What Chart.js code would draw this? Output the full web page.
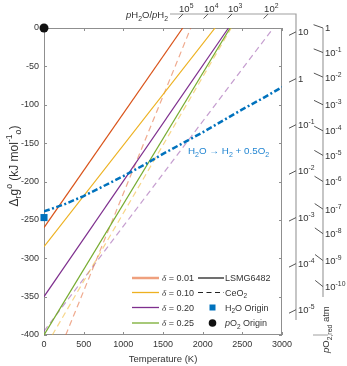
<!DOCTYPE html>
<html><head><meta charset="utf-8">
<script src="https://cdn.jsdelivr.net/npm/chart.js@4.4.1/dist/chart.umd.min.js"></script>
<style>html,body{margin:0;padding:0;background:#fff;overflow:hidden}canvas{display:block}</style>
</head><body>
<canvas id="c" width="347" height="366"></canvas>
<script>
// ---------------- data ----------------
const deltaLabels = ['0.01', '0.10', '0.20', '0.25'];
// LSMG6482 (solid lines): start / end points, T in K, Δg in kJ/mol
const lsmgT0 = [0, 0, 0, 0];
const lsmgG0 = [-260, -285, -350, -400];
const lsmgT1 = [1749, 2156, 2325, 2346];
const lsmgG1 = [0, 0, 0, 0];
// CeO2 (dashed lines) for δ = 0.01, 0.10, 0.20
const ceo2T0 = [274, 105, 0];
const ceo2G0 = [-400, -400, -395];
const ceo2T1 = [1850, 2360, 2890];
const ceo2G1 = [0, 0, 0];
// H2O -> H2 + 0.5 O2
const h2oT = [0, 250, 500, 750, 1000, 1250, 1500, 1750, 2000, 2250, 2500, 2750, 3000];
const h2oG = [-239, -230, -219, -206, -193, -179, -164, -150, -136, -121, -106, -92, -77];
const h2oOrigin = [0, -247];
const po2Origin = [0, 0];
// axis ticks
const xTicks = [0, 500, 1000, 1500, 2000, 2500, 3000];
const yTicks = [0, -50, -100, -150, -200, -250, -300, -350, -400];
// nomograph scales: pH2O/pH2 on top (by T) and right (by Δg), pO2,red on the far right (by Δg)
const ratioTopT = [1753, 2068, 2370, 2825];
const ratioTopExp = ['5', '4', '3', '2'];
const ratioRightG = [-5, -66, -126, -186, -247, -307, -367];
const ratioRightBase = ['10', '1', '10', '10', '10', '10', '10'];
const ratioRightExp = ['', '', '-1', '-2', '-3', '-4', '-5'];
const po2RightG = [0, -32, -64, -100, -134, -166, -200, -236, -268, -303, -337];
const po2RightBase = ['1', '10', '10', '10', '10', '10', '10', '10', '10', '10', '10'];
const po2RightExp = ['', '-1', '-2', '-3', '-4', '-5', '-6', '-7', '-8', '-9', '-10'];

// ---------------- styling ----------------
const SANS = '"Liberation Sans", Arial, Helvetica, sans-serif';
const SERIF = '"Liberation Serif", "Times New Roman", serif';
const lsmgColors = ['#D95319', '#EDB120', '#7E2F8E', '#77AC30'];
const ceo2Colors = ['rgba(226,100,50,0.55)', 'rgba(240,180,40,0.55)', 'rgba(140,60,160,0.5)'];
const BLUE = '#0072BD';
const TXT = '#333333';
const AX = '#8f8f8f';

Chart.defaults.font.family = SANS;

const datasets = [];
lsmgG0.forEach((g, i) => datasets.push({
  data: [{x: lsmgT0[i], y: g}, {x: lsmgT1[i], y: lsmgG1[i]}],
  borderColor: lsmgColors[i], borderWidth: 1.2, pointRadius: 0, order: 2
}));
ceo2G0.forEach((g, i) => datasets.push({
  data: [{x: ceo2T0[i], y: g}, {x: ceo2T1[i], y: ceo2G1[i]}],
  borderColor: ceo2Colors[i], borderWidth: 1.2, borderDash: [6, 4], pointRadius: 0, order: 3
}));
datasets.push({
  data: h2oT.map((t, i) => ({x: t, y: h2oG[i]})),
  borderColor: BLUE, borderWidth: 2.5, borderDash: [6, 2.5, 2, 2.5], pointRadius: 0, order: 1
});
datasets.push({
  data: [{x: h2oOrigin[0], y: h2oOrigin[1]}], showLine: false, clip: false,
  pointStyle: 'rect', pointRadius: 5, backgroundColor: BLUE, borderColor: BLUE, borderWidth: 0, order: 0
});
datasets.push({
  data: [{x: po2Origin[0], y: po2Origin[1]}], showLine: false, clip: false,
  pointStyle: 'circle', pointRadius: 4.5, backgroundColor: '#111', borderColor: '#111', borderWidth: 0, order: 0
});

function drawRich(ctx, x, y, parts, size, align, color) {
  const items = parts.map(([t, m]) => {
    let fs = size, dy = 0, style = '', fam = SANS;
    if (m && m.includes('sub')) { fs = size * 0.72; dy = size * 0.28; }
    if (m && m.includes('sup')) { fs = size * 0.72; dy = -size * 0.42; }
    if (m && m.includes('i')) style = 'italic ';
    if (m && m.includes('serif')) fam = SERIF;
    return {t, font: style + fs + 'px ' + fam, dy};
  });
  let w = 0;
  items.forEach(it => { ctx.font = it.font; it.w = ctx.measureText(it.t).width; w += it.w; });
  let cx = align === 'center' ? x - w / 2 : (align === 'right' ? x - w : x);
  ctx.fillStyle = color || TXT;
  ctx.textAlign = 'left'; ctx.textBaseline = 'alphabetic';
  items.forEach(it => { ctx.font = it.font; ctx.fillText(it.t, cx, y + it.dy); cx += it.w; });
  return w;
}

const deco = {
  id: 'deco',
  beforeDatasetsDraw(chart) {
    const {ctx, chartArea: a, scales: {x, y}} = chart;
    ctx.save();
    ctx.strokeStyle = AX; ctx.lineWidth = 1;
    ctx.strokeRect(a.left + 0.5, a.top + 0.5, a.right - a.left - 1, a.bottom - a.top - 1);
    ctx.beginPath();
    xTicks.forEach(t => {
      const px = Math.round(x.getPixelForValue(t)) + 0.5;
      ctx.moveTo(px, a.bottom); ctx.lineTo(px, a.bottom - 3);
      ctx.moveTo(px, a.top); ctx.lineTo(px, a.top + 3);
    });
    yTicks.forEach(g => {
      const py = Math.round(y.getPixelForValue(g)) + 0.5;
      ctx.moveTo(a.left, py); ctx.lineTo(a.left + 3, py);
      ctx.moveTo(a.right, py); ctx.lineTo(a.right - 3, py);
    });
    ctx.stroke();
    ctx.restore();
  },
  afterDraw(chart) {
    const {ctx, chartArea: a, scales: {x, y}} = chart;
    ctx.save();
    // ---- axis titles ----
    drawRich(ctx, (a.left + a.right) / 2, 361.5, [['Temperature (K)']], 9.5, 'center');
    ctx.save();
    ctx.translate(17.5, 166); ctx.rotate(-Math.PI / 2);
    drawRich(ctx, 0, 0, [['Δ'], ['r', 'sub'], ['g'], ['o', 'sup'], [' (kJ mol'], ['-1', 'sup'], ['o', 'sub'], [')']], 12, 'center');
    ctx.restore();

    // ---- nomograph axes ----
    const topY = a.top - 14, innerX = a.right + 14, outerX = a.right + 41;
    ctx.strokeStyle = '#a0a0a0'; ctx.lineWidth = 1.2;
    ctx.beginPath();
    ctx.moveTo(a.left + 126, topY); ctx.lineTo(innerX, topY); ctx.lineTo(innerX, a.top + 292);
    ctx.moveTo(outerX, a.top); ctx.lineTo(outerX, a.top + 269);
    ctx.moveTo(a.right + 31, a.bottom); ctx.lineTo(a.right + 46, a.bottom);
    ctx.stroke();
    drawRich(ctx, a.left + 124, topY + 4, [['p', 'i'], ['H'], ['2', 'sub'], ['O/'], ['p', 'i'], ['H'], ['2', 'sub']], 9.5, 'right');

    ctx.lineWidth = 1;
    ctx.strokeStyle = '#555';
    // top pH2O/pH2 ticks
    ratioTopT.forEach((t, i) => {
      const px = x.getPixelForValue(t);
      ctx.beginPath(); ctx.moveTo(px, topY); ctx.lineTo(px - 4.5, topY + 4.5); ctx.stroke();
      drawRich(ctx, px - 4, topY - 2.5, [['10'], [ratioTopExp[i], 'sup']], 9.5, 'left');
    });
    // right pH2O/pH2 ticks
    ratioRightG.forEach((g, i) => {
      const py = y.getPixelForValue(g);
      ctx.beginPath(); ctx.moveTo(innerX, py); ctx.lineTo(innerX - 7, py + 3.5); ctx.stroke();
      drawRich(ctx, innerX + 2, py + 3.4, [[ratioRightBase[i]], [ratioRightExp[i], 'sup']], 9.5, 'left');
    });
    // pO2 ticks
    po2RightG.forEach((g, i) => {
      const py = y.getPixelForValue(g);
      const s = 0.35 + 0.045 * i;
      const len = 10, dx = len / Math.sqrt(1 + s * s);
      ctx.beginPath(); ctx.moveTo(outerX, py); ctx.lineTo(outerX - dx, py - dx * s); ctx.stroke();
      drawRich(ctx, outerX + 2, py + 3.4, [[po2RightBase[i]], [po2RightExp[i], 'sup']], 9.5, 'left');
    });
    ctx.save();
    ctx.translate(outerX + 6, a.bottom + 18); ctx.rotate(-Math.PI / 2);
    drawRich(ctx, 0, 0, [['p', 'i'], ['O'], ['2,red', 'sub'], [' atm']], 9.5, 'left');
    ctx.restore();

    // ---- reaction annotation ----
    drawRich(ctx, 188, 154, [['H'], ['2', 'sub'], ['O → H'], ['2', 'sub'], [' + 0.5O'], ['2', 'sub']], 9.8, 'left', '#2386d2');

    // ---- legend ----
    const rows = [278, 292.5, 307.5, 323];
    ctx.setLineDash([]);
    deltaLabels.forEach((d, i) => {
      ctx.strokeStyle = i === 0 ? '#EFA07E' : lsmgColors[i];
      ctx.lineWidth = i === 0 ? 2.5 : 1.3;
      ctx.beginPath(); ctx.moveTo(132, rows[i]); ctx.lineTo(159, rows[i]); ctx.stroke();
      drawRich(ctx, 162, rows[i] + 3.3, [['δ', 'i serif'], [' = ' + d]], 9, 'left');
    });
    ctx.strokeStyle = '#707070'; ctx.lineWidth = 2;
    ctx.beginPath(); ctx.moveTo(198, rows[0]); ctx.lineTo(224, rows[0]); ctx.stroke();
    drawRich(ctx, 225, rows[0] + 3.3, [['LSMG6482']], 9, 'left');
    ctx.strokeStyle = '#222'; ctx.lineWidth = 1.2; ctx.setLineDash([5, 3.5]);
    ctx.beginPath(); ctx.moveTo(198, rows[1]); ctx.lineTo(224, rows[1]); ctx.stroke();
    ctx.setLineDash([]);
    drawRich(ctx, 225, rows[1] + 3.3, [['CeO'], ['2', 'sub']], 9, 'left');
    ctx.fillStyle = BLUE; ctx.fillRect(209.5, rows[2] - 3, 6, 6);
    drawRich(ctx, 225, rows[2] + 3.3, [['H'], ['2', 'sub'], ['O Origin']], 9, 'left');
    ctx.fillStyle = '#111'; ctx.beginPath(); ctx.arc(212.5, rows[3], 3.8, 0, Math.PI * 2); ctx.fill();
    drawRich(ctx, 225, rows[3] + 3.3, [['p', 'i'], ['O'], ['2', 'sub'], [' Origin']], 9, 'left');
    ctx.restore();
  }
};

new Chart(document.getElementById('c'), {
  type: 'line',
  data: {datasets},
  options: {
    responsive: false, animation: false, devicePixelRatio: 1,
    layout: {padding: {left: 0, top: 28, right: 65, bottom: 0}},
    plugins: {legend: {display: false}, tooltip: {enabled: false}},
    elements: {line: {tension: 0, fill: false}},
    scales: {
      x: {
        type: 'linear', min: 0, max: 3000,
        afterBuildTicks: s => { s.ticks = xTicks.map(v => ({value: v})); },
        ticks: {callback: v => String(v), font: {size: 9}, color: TXT, padding: 4, maxRotation: 0, autoSkip: false},
        grid: {display: false, drawTicks: false}, border: {display: false},
        afterFit: s => { s.height = 31; }
      },
      y: {
        type: 'linear', min: -400, max: 0,
        afterBuildTicks: s => { s.ticks = yTicks.map(v => ({value: v})); },
        ticks: {callback: v => String(v), font: {size: 9}, color: TXT, padding: 5, autoSkip: false},
        grid: {display: false, drawTicks: false}, border: {display: false},
        afterFit: s => { s.width = 44; }
      }
    }
  },
  plugins: [deco]
});
</script>
</body></html>
